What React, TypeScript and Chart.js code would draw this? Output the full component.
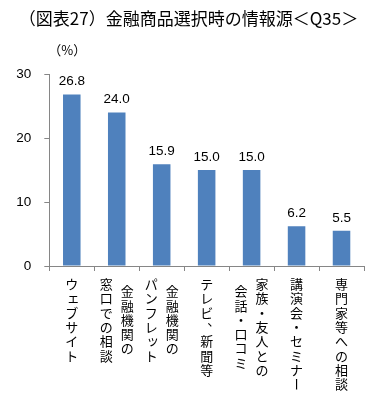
import React, { useEffect, useRef } from "react";
import { Chart, registerables } from "chart.js";

Chart.register(...registerables);

const titleText = "（図表27）金融商品選択時の情報源＜Q35＞";
const unitLabel = "（%）";
// each category: columns of vertical text, in reading order (rightmost column first)
const categoryColumns: string[][] = [
  ["ウェブサイト"],
  ["金融機関の", "窓口での相談"],
  ["金融機関の", "パンフレット"],
  ["テレビ、新聞等"],
  ["家族・友人との", "会話・口コミ"],
  ["講演会・セミナー"],
  ["専門家等への相談"],
];
const values = [26.8, 24.0, 15.9, 15.0, 15.0, 6.2, 5.5];
const yMin = 0;
const yMax = 30;
const yStep = 10;

const CJK = '"Noto Sans CJK JP", "Noto Sans CJK SC", sans-serif';
const NUM = '"Liberation Sans", Arial, sans-serif';

function drawVertical(ctx: CanvasRenderingContext2D, text: string, cx: number, top: number, pitch: number, size: number) {
  const chars = Array.from(text);
  chars.forEach((ch, i) => {
    const cy = top + pitch * i + pitch / 2;
    ctx.save();
    ctx.translate(cx, cy);
    if (ch === "ー" || ch === "－") {
      ctx.rotate(Math.PI / 2);
    } else if (ch === "、" || ch === "。") {
      ctx.translate(size * 0.55, -size * 0.55);
    } else if ("ァィゥェォッャュョ".includes(ch)) {
      ctx.translate(size * 0.12, -size * 0.12);
    }
    ctx.fillText(ch, 0, 0);
    ctx.restore();
  });
}

const overlayPlugin = {
  id: "overlay",
  afterDatasetsDraw(chart: any) {
    const ctx: CanvasRenderingContext2D = chart.ctx;
    const meta = chart.getDatasetMeta(0);
    ctx.save();
    ctx.fillStyle = "#000";
    ctx.font = `13.5px ${NUM}`;
    ctx.textAlign = "center";
    ctx.textBaseline = "alphabetic";
    meta.data.forEach((bar: any, i: number) => {
      ctx.fillText(values[i].toFixed(1), bar.x, bar.y - 9);
    });
    ctx.restore();
  },
  afterDraw(chart: any) {
    const ctx: CanvasRenderingContext2D = chart.ctx;
    const xScale = chart.scales.x;
    const area = chart.chartArea;
    ctx.save();
    ctx.fillStyle = "#000";
    ctx.textAlign = "center";
    ctx.textBaseline = "middle";
    // title
    ctx.font = `17px ${CJK}`;
    ctx.fillText(titleText, 180.5, 11);
    // unit
    ctx.font = `13px ${CJK}`;
    ctx.fillText(unitLabel, area.left + 18, 42);
    // category labels (vertical writing)
    const size = 13;
    const pitch = 14.3;
    const colGap = 21;
    const top = area.bottom + 11;
    ctx.font = `${size}px ${CJK}`;
    categoryColumns.forEach((cols, i) => {
      const cx = xScale.getPixelForValue(i);
      const n = cols.length;
      const maxLen = Math.max(...cols.map((c) => Array.from(c).length));
      cols.forEach((col, j) => {
        const x = cx + ((n - 1) / 2) * colGap - j * colGap;
        const len = Array.from(col).length;
        const t = top + ((maxLen - len) * pitch) / 2;
        drawVertical(ctx, col, x, t, pitch, size);
      });
    });
    ctx.restore();
  },
};

export default function App() {
  const ref = useRef<HTMLCanvasElement | null>(null);
  useEffect(() => {
    if (!ref.current) return;
    const chart = new Chart(ref.current, {
      type: "bar",
      data: {
        labels: categoryColumns.map((c) => c.join("")),
        datasets: [
          {
            data: values,
            backgroundColor: "#4F81BD",
            borderWidth: 0,
            barPercentage: 0.39,
            categoryPercentage: 1,
          },
        ],
      },
      options: {
        responsive: false,
        animation: false,
        layout: { padding: { top: 66, right: 16, left: 0, bottom: 0 } },
        plugins: {
          legend: { display: false },
          tooltip: { enabled: false },
          title: { display: false },
        },
        scales: {
          x: {
            grid: {
              offset: true,
              drawOnChartArea: false,
              drawTicks: true,
              tickLength: 5,
              color: "#868686",
            },
            border: { color: "#868686", width: 1 },
            ticks: { callback: () => "" },
            afterFit: (s: any) => {
              s.height = 128;
            },
          },
          y: {
            min: yMin,
            max: yMax,
            grid: {
              drawOnChartArea: false,
              drawTicks: true,
              tickLength: 5,
              color: "#868686",
            },
            border: { color: "#868686", width: 1 },
            ticks: {
              stepSize: yStep,
              color: "#000",
              padding: 13,
              font: { family: NUM, size: 13.5 },
            },
            afterFit: (s: any) => {
              s.width = 41.3;
            },
          },
        },
      },
      plugins: [overlayPlugin],
    });
    return () => chart.destroy();
  }, []);
  return (
    <div style={{ width: 372, height: 386 }}>
      <canvas ref={ref} width={372} height={386} style={{ display: "block" }} />
    </div>
  );
}
